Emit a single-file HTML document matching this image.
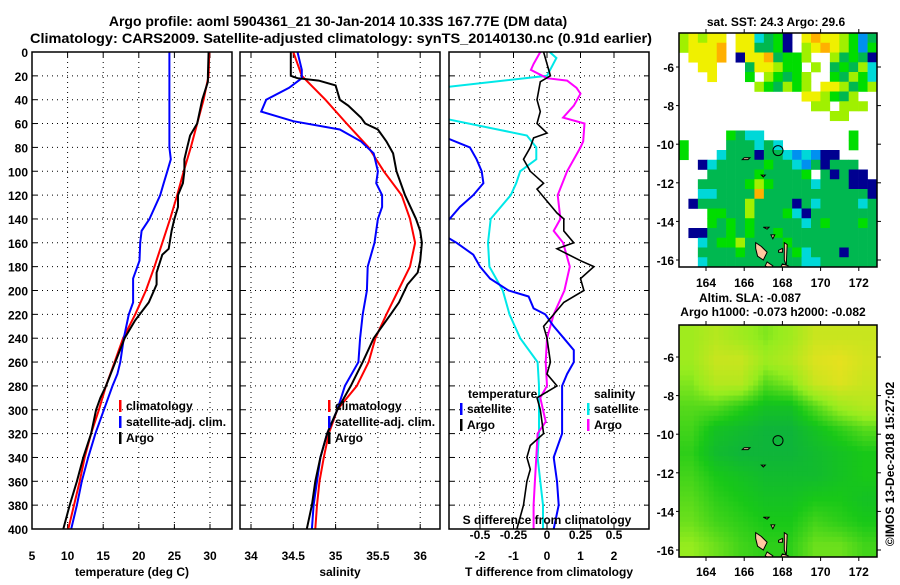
<!DOCTYPE html>
<html><head><meta charset="utf-8">
<style>
body{margin:0;background:#fff;}
svg text{font-family:"Liberation Sans",Arial,sans-serif;font-weight:bold;fill:#000;}
</style></head>
<body>
<svg id="chart" width="900" height="580" viewBox="0 0 900 580" xmlns="http://www.w3.org/2000/svg">
<defs>
<clipPath id="c1"><rect x="32" y="52" width="200" height="477"/></clipPath>
<clipPath id="c2"><rect x="240" y="52" width="200" height="477"/></clipPath>
<clipPath id="c3"><rect x="449" y="52" width="200" height="477"/></clipPath>
<clipPath id="cm1"><rect x="679" y="33" width="198" height="234"/></clipPath>
<clipPath id="cm2"><rect x="679" y="325" width="198" height="232"/></clipPath>
</defs>
<text x="338" y="26" font-size="14" text-anchor="middle">Argo profile: aoml 5904361_21 30-Jan-2014 10.33S 167.77E (DM data)</text>
<text x="30" y="43" font-size="14" textLength="622" lengthAdjust="spacingAndGlyphs">Climatology: CARS2009. Satellite-adjusted climatology: synTS_20140130.nc (0.91d earlier)</text>
<g id="g"></g>
</svg>
<script>
// ---------- data ----------
const depths = [0,20,40,60,80,100,120,140,160,180,200,220,240,260,280,300,320,340,360,380,400];
const tempClim = [29.9,29.8,29.1,28.2,27.3,26.3,25.4,24.4,23.3,22.2,21.0,19.5,17.8,16.6,15.4,14.4,13.3,12.4,11.7,10.9,10.1];
const tempSatDepth = [0,80,90,100,110,120,140,150,160,175,190,210,220,240,260,270,280,300,320,340,360,380,400];
const tempSat = [24.3,24.3,24.5,24.0,23.5,23.0,21.5,20.4,20.2,20.1,19.2,19.2,18.6,17.9,17.4,17.0,16.3,15.1,13.9,12.9,12.0,11.3,10.5];
const tempArgoDepth = [0,20,25,40,60,70,80,90,100,110,120,130,140,150,165,170,185,195,210,225,240,260,280,290,300,320,340,360,380,400];
const tempArgo = [29.8,29.7,29.7,28.9,28.2,27.2,26.8,26.4,26.4,26.2,25.5,25.5,25.0,24.6,24.2,23.3,22.5,22.5,21.4,19.5,18.0,16.7,15.4,14.6,14.0,13.3,12.2,11.3,10.3,9.4];
const salClim = [34.5,34.6,34.88,35.13,35.39,35.57,35.78,35.88,35.94,35.88,35.74,35.6,35.47,35.39,35.25,35.02,34.92,34.86,34.81,34.78,34.76];
const salSatDepth = [0,15,22,30,40,50,58,65,75,85,100,110,120,130,140,160,180,200,220,240,260,280,300,320,340,360,380,400];
const salSat = [34.55,34.6,34.6,34.45,34.18,34.12,34.5,35.05,35.3,35.45,35.5,35.48,35.55,35.55,35.5,35.46,35.38,35.37,35.32,35.29,35.27,35.11,35.02,34.9,34.82,34.78,34.74,34.72];
const salArgoDepth = [0,20,22,24,28,40,45,55,60,65,75,85,100,120,140,150,160,175,185,195,210,220,240,260,280,300,320,340,360,380,400];
const salArgo = [34.47,34.47,34.55,34.8,35.0,35.05,35.15,35.3,35.35,35.5,35.6,35.68,35.72,35.82,35.95,36.0,36.02,36.0,35.97,35.85,35.75,35.65,35.45,35.32,35.18,35.02,34.9,34.82,34.76,34.72,34.66];
const dSatSDepth = [0,5,20,30,40,55,70,80,90,100,110,120,140,160,180,200,220,240,260,280,300,320,340,360,380,400];
const dSatS = [0.02,0.07,0.0,-0.8,-0.9,-0.8,-0.15,-0.08,-0.08,-0.2,-0.23,-0.27,-0.42,-0.44,-0.43,-0.33,-0.28,-0.2,-0.07,-0.06,-0.06,-0.06,-0.07,-0.05,-0.03,-0.03];
const dArgoSDepth = [0,10,15,22,24,30,35,45,55,60,75,80,100,120,140,150,160,180,200,220,240,260,280,290,300,310,320,340,360,380,400];
const dArgoS = [-0.05,-0.1,-0.12,0.0,0.15,0.22,0.25,0.2,0.12,0.28,0.27,0.25,0.15,0.08,0.1,0.05,0.12,0.17,0.13,0.05,0.0,-0.01,0.0,-0.05,-0.03,-0.01,-0.07,-0.08,-0.09,-0.1,-0.1];
const dSatTDepth = [0,60,72,80,90,100,110,120,130,143,155,160,170,180,190,200,205,215,220,230,240,250,260,270,280,300,320,340,360,380,400];
const dSatT = [-5.6,-3.9,-3.0,-2.3,-2.1,-1.95,-1.9,-2.2,-2.6,-3.0,-3.0,-2.7,-2.2,-2.0,-1.7,-1.15,-0.55,-0.4,-0.05,0.2,0.5,0.8,0.8,0.6,0.45,0.45,0.45,0.2,0.3,0.35,0.2];
const dArgoTDepth = [0,20,25,40,50,60,68,72,80,90,100,110,115,125,135,140,150,160,165,175,180,190,200,210,220,230,240,260,270,280,290,300,320,330,340,350,360,380,400];
const dArgoT = [-0.1,0.1,-0.2,-0.3,-0.2,-0.3,0.0,-0.4,-0.5,-0.7,-0.5,-0.1,-0.3,0.0,0.3,0.5,0.5,0.8,0.3,1.0,1.4,1.0,1.1,0.5,0.2,-0.1,0.0,0.1,0.0,0.3,-0.3,-0.2,-0.1,-0.5,-0.6,-0.5,-0.6,-0.7,-0.9];
const depthTicks = [0,20,40,60,80,100,120,140,160,180,200,220,240,260,280,300,320,340,360,380,400];
const tempTicks = [5,10,15,20,25,30];
const salTicks = [34,34.5,35,35.5,36];
const salTickLabels = ["34","34.5","35","35.5","36"];
const tdTicks = [-2,-1,0,1,2];
const sdTicks = [-0.5,-0.25,0,0.25,0.5];
const lonTicks = [164,166,168,170,172];
const latTicks = [-6,-8,-10,-12,-14,-16];
const sstRows = [
"lylyy.yycGgn.yoyylgbG",
"lyyyo.yyGGgn.lyoylgbg",
".yyyo.nyyoGggl..lGgGn",
"..yy...Gyylgg.l.GgGlc",
"...y...g.lgGgl..gGlgc",
"........lgGlgl.yylGgl",
".............yylgGl..",
"..............ll.lll.",
"................ll...",
".....................",
".....gGcc.........g..",
"g....GGGcGc.......g..",
"g...cGGGnGGcbcbnn....",
"..ncGGGGGgGGcbGnGGG..",
"...GGGGGgGGGGg.GnGnn.",
"..GGGGGglgGGGGcGGGnnn",
"..ccGGGGoGGGGGGGGGGGn",
".nGGGGGlGGGGnGcGGGGcG",
"...ggGGlGGGgcnGGGGGGG",
"...gGgGgGGGGGcGgGGGgG",
".nnGGgGgGGgGGGGGGGGGG",
"..cGgglGGGGgGGGGGGGGG",
"..GGGGgGGGGGgcGGGnGGG",
"..cGGGGGGGGGGccGGGGGG"];
const slaRows = [
[.6,.7,.6,.5,.6,.8,.8,.8],
[.6,.8,.8,.6,.7,.9,.95,.85],
[.5,.7,.7,.4,.5,.8,.9,.8],
[.4,.4,.3,.2,.2,.4,.6,.7],
[.35,.2,.15,.1,.1,.2,.3,.4],
[.3,.15,.1,.1,.1,.15,.2,.25],
[.35,.25,.2,.15,.15,.15,.2,.25],
[.4,.3,.25,.2,.2,.25,.25,.2],
[.45,.35,.3,.25,.25,.35,.3,.25],
[.55,.45,.35,.3,.3,.45,.45,.35]];
const profileLon = 167.77, profileLat = -10.33;

// ---------- helpers ----------
const NS="http://www.w3.org/2000/svg";
const G=document.getElementById('g');
function mk(tag,attrs,parent){const e=document.createElementNS(NS,tag);for(const k in attrs)e.setAttribute(k,attrs[k]);(parent||G).appendChild(e);return e;}
const yD = d => 52 + d*477/400;
const xT = v => 32 + (v-5)*7.12;
const xS = v => 251 + (v-34)*84.6;
const xTd = v => 547 + v*33.5;
const xSd = v => 547 + v*134;

function panel(name,x0,clip,vgrid,xf,ticks,labels,title,ylabels){
  const grp=mk('g',{});
  
  
  vgrid.forEach(v=>{const l=mk('line',{x1:xf(v),x2:xf(v),y1:52,y2:529,stroke:'#000','stroke-width':1,'stroke-dasharray':'1,4'},grp);
    
    mk('line',{x1:xf(v),x2:xf(v),y1:529,y2:524,stroke:'#000'},grp);mk('line',{x1:xf(v),x2:xf(v),y1:52,y2:57,stroke:'#000'},grp);});
  depthTicks.forEach(d=>{const l=mk('line',{x1:x0,x2:x0+200,y1:yD(d),y2:yD(d),stroke:'#000','stroke-width':1,'stroke-dasharray':'1,4'},grp);
    
    mk('line',{x1:x0,x2:x0+5,y1:yD(d),y2:yD(d),stroke:'#000'},grp);mk('line',{x1:x0+195,x2:x0+200,y1:yD(d),y2:yD(d),stroke:'#000'},grp);
    if(ylabels){const t=mk('text',{x:x0-4,y:yD(d)+5,'font-size':12,'text-anchor':'end'},grp);t.textContent=d;
      }});
  ticks.forEach((v,i)=>{const t=mk('text',{x:xf(v),y:560,'font-size':12,'text-anchor':'middle'},grp);t.textContent=labels[i];
    });
  const tt=mk('text',{x:x0+100,y:576,'font-size':12,'text-anchor':'middle'},grp);tt.textContent=title;
  
  return grp;
}
function line(name,ds,vs,xf,color,clip,w){
  const p=mk('polyline',{points:ds.map((d,i)=>xf(vs[i]).toFixed(1)+','+yD(d).toFixed(1)).join(' '),fill:'none',stroke:color,'stroke-width':w||2,'clip-path':'url(#'+clip+')'});
  
}
function legend(x,y,items){
  items.forEach((it,i)=>{
    const r=mk('rect',{x:x,y:y+i*16-10,width:2.5,height:12,fill:it[1]});
    
    const t=mk('text',{x:x+7,y:y+i*16,'font-size':12});t.textContent=it[0];
    
  });
}

panel('temperature-panel',32,'c1',[10,15,20,25,30],xT,tempTicks,tempTicks.map(String),'temperature (deg C)',true);
line('temp-climatology-line',depths,tempClim,xT,'#ff0000','c1');
line('temp-satellite-adj-line',tempSatDepth,tempSat,xT,'#0000ff','c1');
line('temp-argo-line',tempArgoDepth,tempArgo,xT,'#000','c1');
mk('rect',{x:32,y:52,width:200,height:477,fill:'none',stroke:'#000','stroke-width':1.5});
legend(119,410,[['climatology','#ff0000'],['satellite-adj. clim.','#0000ff'],['Argo','#000']]);

panel('salinity-panel',240,'c2',salTicks,xS,salTicks,salTickLabels,'salinity',false);
line('sal-climatology-line',depths,salClim,xS,'#ff0000','c2');
line('sal-satellite-adj-line',salSatDepth,salSat,xS,'#0000ff','c2');
line('sal-argo-line',salArgoDepth,salArgo,xS,'#000','c2');
mk('rect',{x:240,y:52,width:200,height:477,fill:'none',stroke:'#000','stroke-width':1.5});
legend(328,410,[['climatology','#ff0000'],['satellite-adj. clim.','#0000ff'],['Argo','#000']]);

panel('difference-panel',449,'c3',tdTicks,xTd,tdTicks,tdTicks.map(String),'T difference from climatology',false);
line('sal-diff-satellite-line',dSatSDepth,dSatS,xSd,'#00e8e8','c3');
line('sal-diff-argo-line',dArgoSDepth,dArgoS,xSd,'#ff00ff','c3');
line('temp-diff-satellite-line',dSatTDepth,dSatT,xTd,'#0000ff','c3');
line('temp-diff-argo-line',dArgoTDepth,dArgoT,xTd,'#000','c3',1.6);
mk('rect',{x:449,y:52,width:200,height:477,fill:'none',stroke:'#000','stroke-width':1.5});
{const t=mk('text',{x:468,y:398,'font-size':12});t.textContent='temperature';
 const s=mk('text',{x:594,y:398,'font-size':12});s.textContent='salinity';}
legend(460,413,[['satellite','#0000ff'],['Argo','#000']]);
legend(587,413,[['satellite','#00e8e8'],['Argo','#ff00ff']]);
{const t=mk('text',{x:547,y:524,'font-size':12,'text-anchor':'middle'});t.textContent='S difference from climatology';
 }
sdTicks.forEach(v=>{const t=mk('text',{x:xSd(v),y:539,'font-size':12,'text-anchor':'middle'});t.textContent=String(v);
 });

// ---------- maps ----------
const SSTC={y:'#f0f000',o:'#ffb000',l:'#a0f000',g:'#00dd00',G:'#00b850',c:'#00d8d8',b:'#0090f0',n:'#000090'};
function mapFrame(name,x0,y0,w,h,lat0,labelY){
  const grp=mk('g',{});
  const lx=v=>706+(v-164)*19.1;
  lonTicks.forEach(v=>{mk('line',{x1:lx(v),x2:lx(v),y1:y0,y2:y0-4,stroke:'#000'},grp);mk('line',{x1:lx(v),x2:lx(v),y1:y0+h,y2:y0+h+4,stroke:'#000'},grp);
    const t=mk('text',{x:lx(v),y:labelY,'font-size':12,'text-anchor':'middle'},grp);t.textContent=v;});
  latTicks.forEach(v=>{const y=lat0(v);mk('line',{x1:x0+w,x2:x0+w+4,y1:y,y2:y,stroke:'#000'},grp);mk('line',{x1:x0,x2:x0-3,y1:y,y2:y,stroke:'#000'},grp);
    const t=mk('text',{x:x0-5,y:y+5,'font-size':12,'text-anchor':'end'},grp);t.textContent=v;});
  return grp;
}
function islands(latf,clip){
  const lx=v=>706+(v-164)*19.1;
  const shapes=[[[166.6,-15.1],[166.9,-15.3],[167.2,-15.6],[167.0,-16.0],[166.7,-15.8],[166.6,-15.4]],
   [[167.2,-16.1],[167.5,-16.3],[167.4,-16.5],[167.1,-16.3]],[[167.8,-15.5],[168.0,-15.4],[168.0,-15.6],[167.8,-15.6]],
   [[166.0,-10.7],[166.3,-10.7],[166.2,-10.8],[165.9,-10.8]],[[167.0,-14.3],[167.3,-14.3],[167.2,-14.4]],[[167.4,-14.7],[167.6,-14.7],[167.5,-14.9]],
   [[166.9,-11.6],[167.1,-11.6],[167.0,-11.7]],[[168.1,-15.1],[168.25,-15.2],[168.2,-16.3],[168.1,-16.0]],[[168.0,-16.2],[168.3,-16.3],[168.2,-16.5],[167.9,-16.4]]];
  shapes.forEach(s=>{const p=mk('polygon',{points:s.map(q=>lx(q[0])+','+latf(q[1])).join(' '),fill:'#ffc8a0',stroke:'#000','stroke-width':1,'clip-path':'url(#'+clip+')'});
    });
  const c=mk('circle',{cx:lx(profileLon),cy:latf(profileLat),r:5,fill:'none',stroke:'#000','stroke-width':1});
  
}
{const latf=v=>67+(-6-v)*19.3;
 const g=mk('g',{'clip-path':'url(#cm1)'});
 const cw=198/21, ch=234/24;
 sstRows.forEach((row,r)=>{for(let c=0;c<row.length;c++){const k=row[c];if(k==='.')continue;
   const e=mk('rect',{x:679+c*cw,y:33+r*ch,width:cw+0.3,height:ch+0.3,fill:SSTC[k]},g);
   }});
 islands(latf,'cm1');
 mapFrame('sst-map',679,33,198,234,latf,287);
 mk('rect',{x:679,y:33,width:198,height:234,fill:'none',stroke:'#000','stroke-width':1.5});
 const t=mk('text',{x:776,y:26,'font-size':12,'text-anchor':'middle'});t.textContent='sat. SST: 24.3 Argo: 29.6';
 }
function slaColor(v){const st=[[0,[8,168,80]],[0.25,[24,200,24]],[0.55,[150,236,30]],[0.95,[230,225,30]]];
 v=Math.max(0,Math.min(0.95,v));
 for(let i=1;i<st.length;i++){if(v<=st[i][0]){const a=st[i-1],b=st[i],f=(v-a[0])/(b[0]-a[0]);
   return 'rgb('+a[1].map((c,j)=>Math.round(c+(b[1][j]-c)*f)).join(',')+')';}}return 'rgb(230,225,30)';}
function slaAt(r,c){ // bilinear interpolation on the grid (cell centres)
  const R=slaRows.length, C=slaRows[0].length;
  r=Math.max(0,Math.min(R-1,r));c=Math.max(0,Math.min(C-1,c));
  const r0=Math.floor(r),c0=Math.floor(c),r1=Math.min(R-1,r0+1),c1=Math.min(C-1,c0+1),fr=r-r0,fc=c-c0;
  return slaRows[r0][c0]*(1-fr)*(1-fc)+slaRows[r0][c1]*(1-fr)*fc+slaRows[r1][c0]*fr*(1-fc)+slaRows[r1][c1]*fr*fc;
}
{const latf=v=>357+(-6-v)*19.3;
 const g=mk('g',{'clip-path':'url(#cm2)'});
 const NX=40,NY=46,W=198,H=232,R=slaRows.length,C=slaRows[0].length;
 for(let j=0;j<NY;j++)for(let i=0;i<NX;i++){
   const v=slaAt((j+0.5)/NY*R-0.5,(i+0.5)/NX*C-0.5);
   const e=mk('rect',{x:(679+i*W/NX).toFixed(2),y:(325+j*H/NY).toFixed(2),width:(W/NX+0.4).toFixed(2),height:(H/NY+0.4).toFixed(2),fill:slaColor(v)},g);
   }
 islands(latf,'cm2');
 mapFrame('sla-map-axes',679,325,198,232,latf,576);
 mk('rect',{x:679,y:325,width:198,height:232,fill:'none',stroke:'#000','stroke-width':1.5});
 const t1=mk('text',{x:750,y:302,'font-size':12,'text-anchor':'middle'});t1.textContent='Altim. SLA: -0.087';
 
 const t2=mk('text',{x:773,y:316,'font-size':12,'text-anchor':'middle'});t2.textContent='Argo h1000: -0.073 h2000: -0.082';
 }
{const t=mk('text',{x:0,y:0,'font-size':12,'font-weight':'normal','text-anchor':'middle',transform:'translate(894,464) rotate(-90)'});
 t.textContent='©IMOS 13-Dec-2018 15:27:02';}
</script>
</body></html>
